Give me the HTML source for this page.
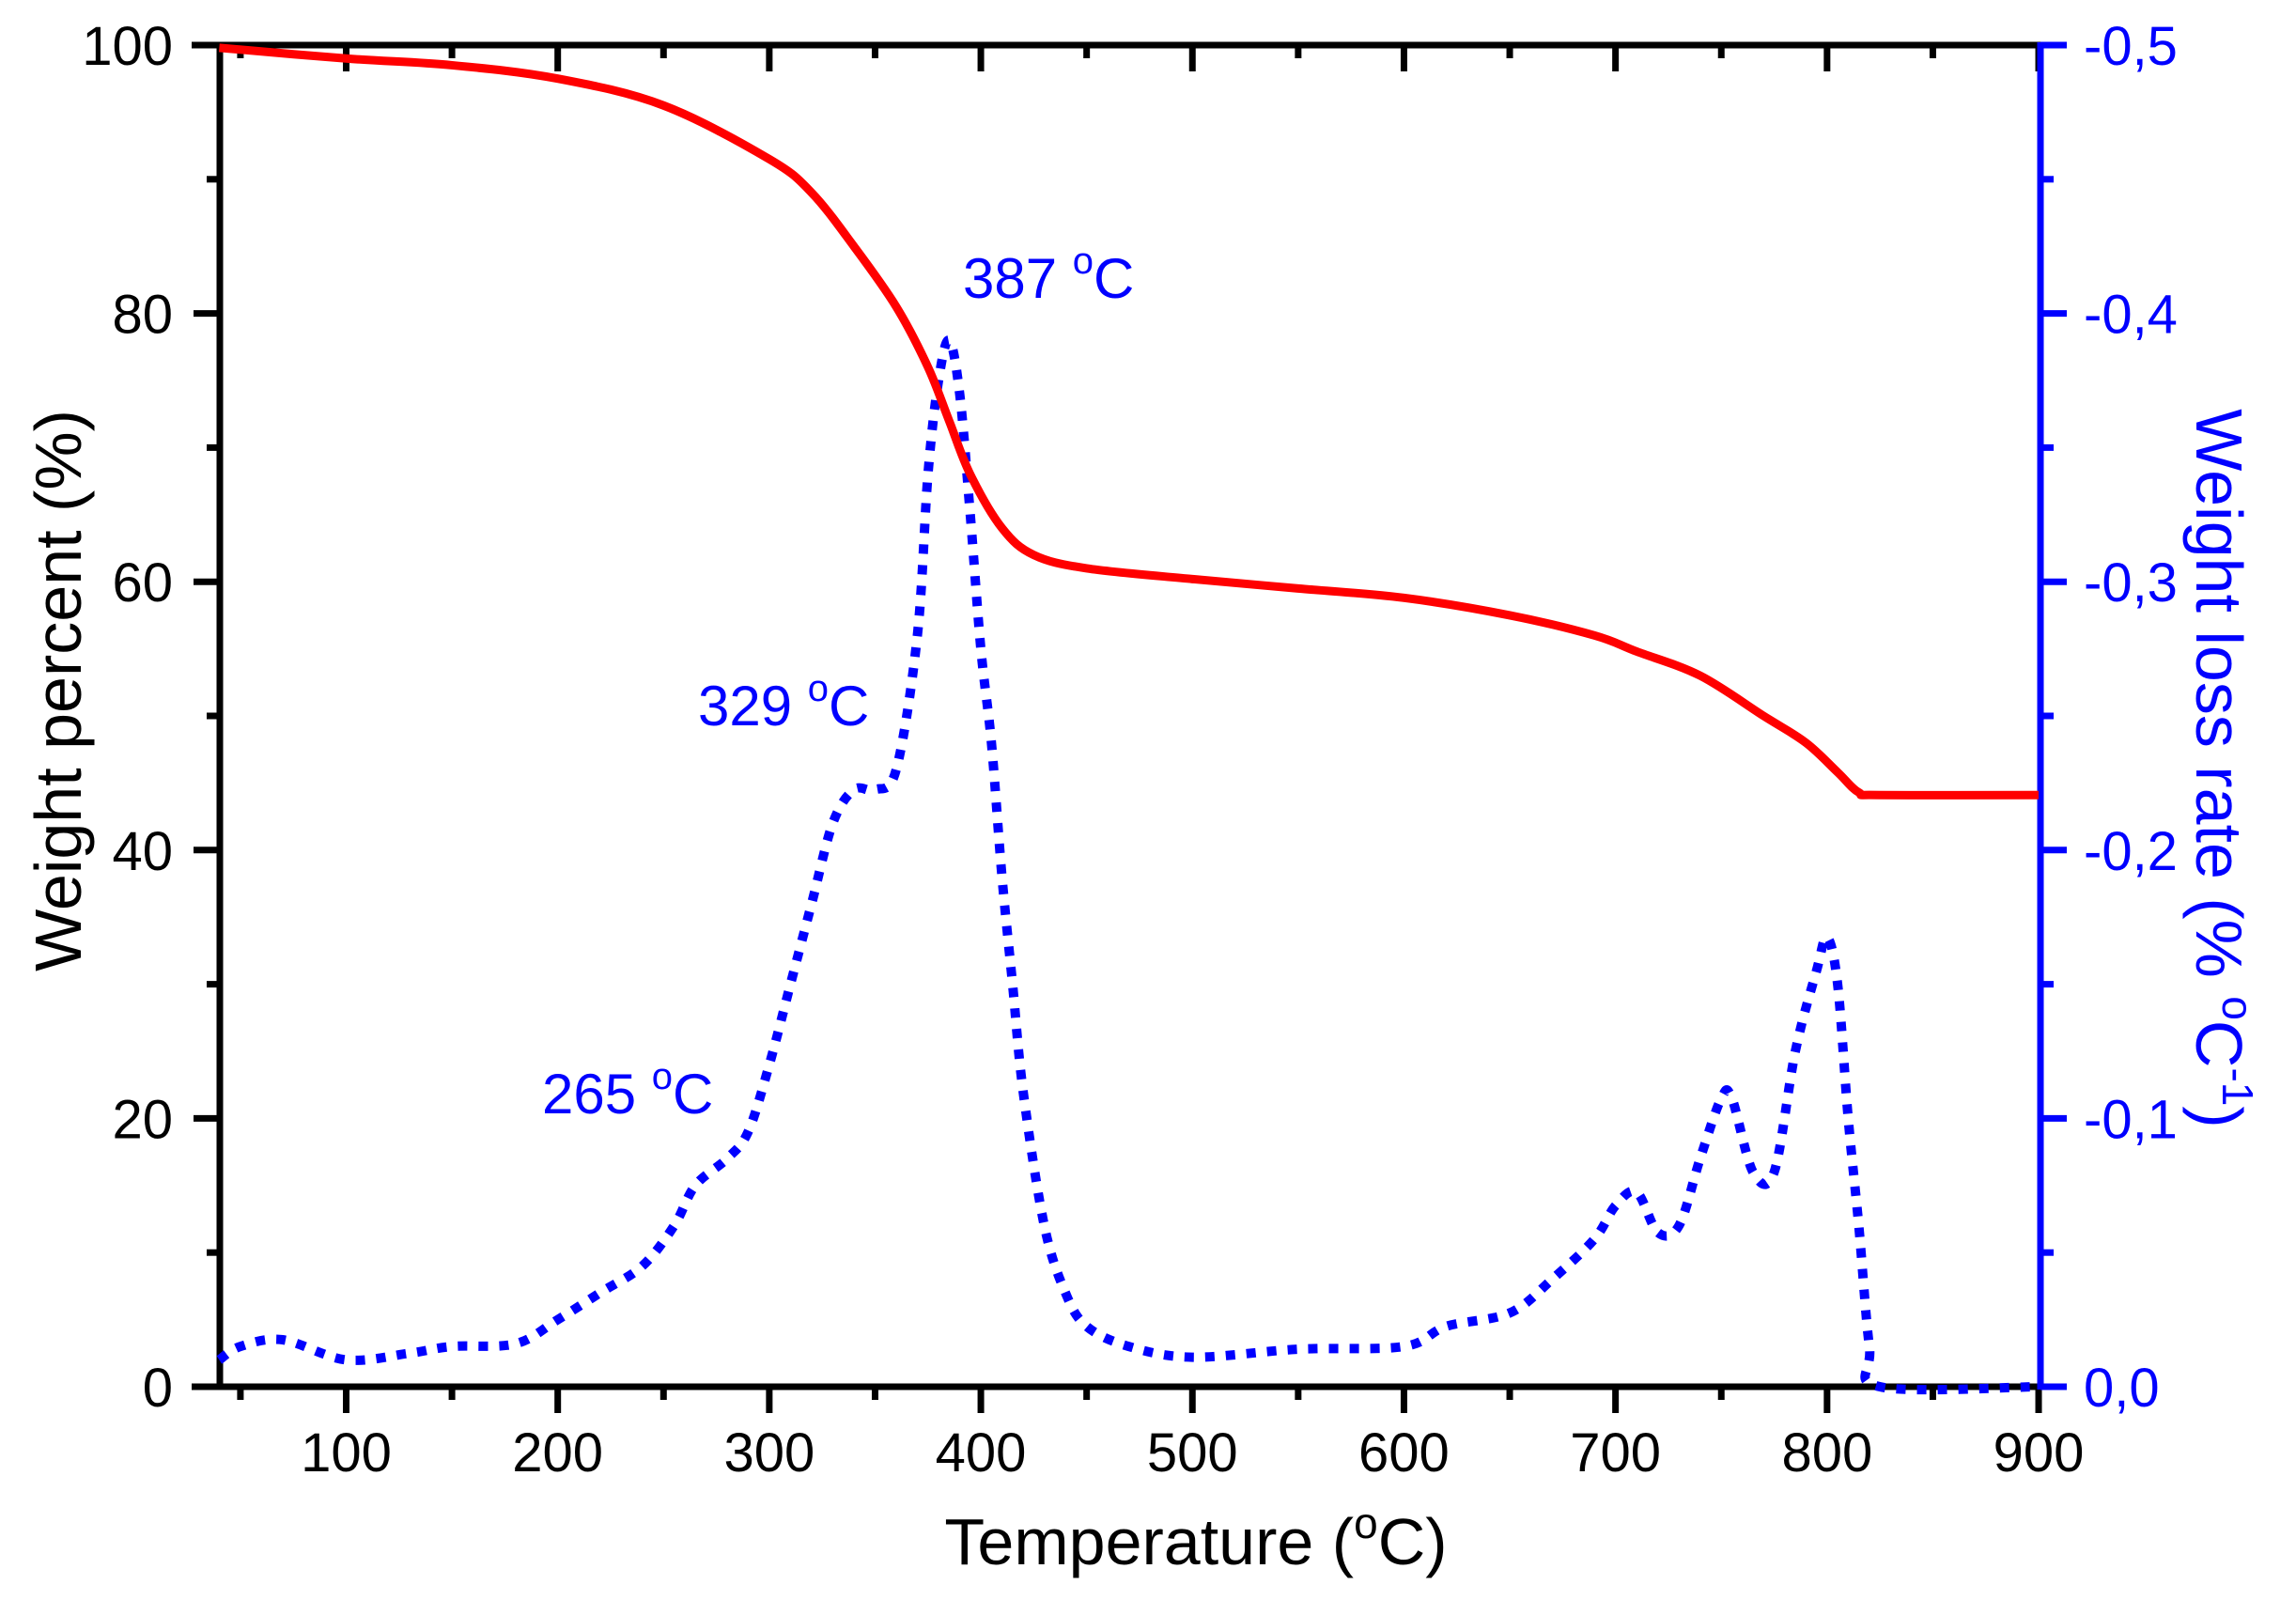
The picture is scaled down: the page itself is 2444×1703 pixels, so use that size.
<!DOCTYPE html>
<html><head><meta charset="utf-8"><style>
html,body{margin:0;padding:0;background:#fff}
svg{display:block}
text{font-family:"Liberation Sans",Arial,sans-serif}
</style></head><body>
<svg id="s" width="2444" height="1703" viewBox="0 0 2444 1703" xmlns="http://www.w3.org/2000/svg">
<g id="ax"></g>
<path id="blue" fill="none" stroke="#0000ff" stroke-width="10" stroke-dasharray="10 12"/>
<path id="red" fill="none" stroke="#ff0000" stroke-width="9" stroke-linejoin="round"/>
<text x="1273" y="1665" font-size="70" text-anchor="middle">Temperature (<tspan font-size="46" dy="-28">o</tspan><tspan dy="28">C)</tspan></text>
<text transform="translate(62,735) rotate(-90)" font-size="70" text-anchor="middle" dy="24">Weight percent (%)</text>
<text transform="translate(2362,818) rotate(90)" font-size="70" text-anchor="middle" fill="#0000ff" dy="24">Weight loss rate (% <tspan font-size="46" dy="-28">o</tspan><tspan dy="28">C</tspan><tspan font-size="46" dy="-28">-1</tspan><tspan dy="28">)</tspan></text>
<g fill="#0000ff" font-size="60">
<text x="1025" y="317">387 <tspan font-size="40" dy="-26">o</tspan><tspan dy="26">C</tspan></text>
<text x="743" y="772">329 <tspan font-size="40" dy="-26">o</tspan><tspan dy="26">C</tspan></text>
<text x="577" y="1185">265 <tspan font-size="40" dy="-26">o</tspan><tspan dy="26">C</tspan></text>
</g>
</svg>
<script>
const L=234,R=2172,T=48,B=1476;
const X=t=>368.5+(t-100)*2.2519, Y=v=>B-v*(B-T)/100;
const ax=document.getElementById('ax');let h='';
const line=(x1,y1,x2,y2,c,w)=>h+=`<line x1="${x1}" y1="${y1}" x2="${x2}" y2="${y2}" stroke="${c}" stroke-width="${w||7}"/>`;
const txt=(x,y,s,a,c)=>h+=`<text x="${x}" y="${y}" font-size="58" text-anchor="${a}" fill="${c||'#000'}">${s}</text>`;
line(204,T,R,T,'#000');line(L,T-3,L,B+3,'#000');line(204,B,R,B,'#000');
for(let t=50;t<=900;t+=50){const x=X(t),maj=t%100==0;line(x,B,x,B+(maj?28:14),'#000');line(x,T,x,T+(maj?28:14),'#000');if(maj)txt(x,B+90,t,'middle');}
for(let v=0;v<=100;v+=10){const y=Y(v),maj=v%20==0;line(L-(maj?28:14),y,L,y,'#000');if(maj)txt(L-50,y+21,v,'end');}
line(R,T-3,R,B+3,'#0000ff');
for(let v=0;v<=100;v+=10){const y=Y(v),maj=v%20==0;line(R,y,R+(maj?28:14),y,'#0000ff');if(maj){const r=(v/200).toFixed(1).replace('.',',');txt(R+46,y+21,(v?'-':'')+r,'start','#0000ff');}}
ax.innerHTML=h;
function cr(p){let d=`M${X(p[0][0])},${Y(p[0][1])}`;const P=p.map(q=>[X(q[0]),Y(q[1])]);
for(let i=0;i<P.length-1;i++){const p0=P[i-1]||P[i],p1=P[i],p2=P[i+1],p3=P[i+2]||P[i+1];
d+=`C${p1[0]+(p2[0]-p0[0])/6},${p1[1]+(p2[1]-p0[1])/6} ${p2[0]-(p3[0]-p1[0])/6},${p2[1]-(p3[1]-p1[1])/6} ${p2[0]},${p2[1]}`;}return d;}
const red=[[40,99.8],[100,99],[150,98.5],[200,97.5],[250,95.5],[300,91.5],[320,89],[340,85],[360,80.5],[375,76],[385,72],[395,68],[410,64],[425,62],[450,61],[500,60.2],[550,59.5],[600,58.8],[650,57.5],[690,56],[710,54.8],[740,53],[770,50],[790,48],[805,45.8],[815,44.3],[825,44.1],[900,44.1]];
const blue=[[40,2],[50,3],[70,3.5],[100,2],[130,2.5],[150,3],[180,3.2],[200,5],[220,7],[240,9],[255,12],[265,15],[280,17],[290,19],[300,24],[310,30],[320,36],[330,42],[340,44.5],[350,44.5],[360,46],[370,56],[375,68],[380,75],[385,78],[390,74],[395,65],[400,55],[405,48],[410,38],[415,30],[420,22],[430,12],[440,7],[450,4.5],[470,3],[500,2.2],[550,2.8],[600,3],[620,4.5],[650,5.5],[670,8],[690,11],[700,13.5],[710,14.5],[720,11.5],[730,12],[740,17],[750,21.5],[755,21.5],[765,16],[775,16],[785,25],[795,31],[800,33.5],[805,30],[810,20],[815,12],[820,3],[825,0],[900,0]];
document.getElementById('red').setAttribute('d',cr(red));
document.getElementById('blue').setAttribute('d',cr(blue));
</script>
</body></html>
